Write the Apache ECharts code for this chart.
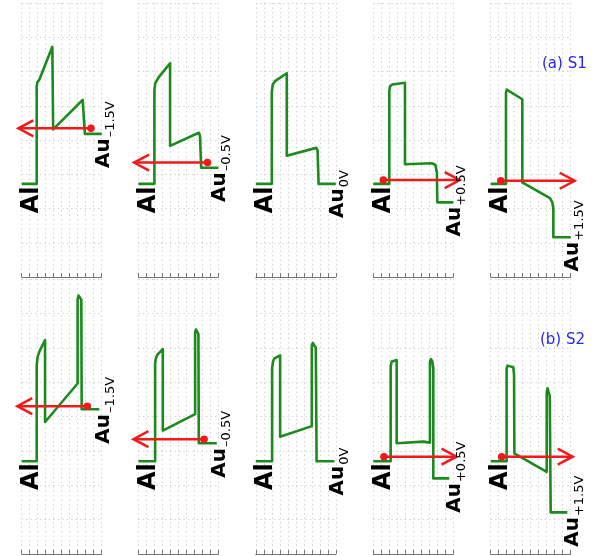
<!DOCTYPE html>
<html>
<head>
<meta charset="utf-8">
<script src="https://cdn.jsdelivr.net/npm/echarts@6/dist/echarts.min.js"></script>
<style>
  html, body { margin: 0; padding: 0; background: #ffffff; }
  #main { width: 602px; height: 556px; }
</style>
</head>
<body>
<div id="main"></div>
<script>
// Bias applied to the Au contact, one panel per bias
const biasLabels = ['\u20131.5V', '\u20130.5V', '0V', '+0.5V', '+1.5V'];

// Band-edge profiles [depth, energy] for sample S1 (Al | barrier | barrier | Au)
const s1Bands = [
  [[0,2.72],[1.875,2.72],[1.875,5.55],[1.95,5.68],[2.2,5.76],[3.83,6.72],[3.93,4.31],[7.62,5.17],[7.9,4.18],[10,4.18]],
  [[0,2.72],[2.0,2.72],[2.0,5.45],[2.1,5.65],[2.5,5.82],[3.96,6.24],[3.96,3.83],[7.55,4.21],[7.7,4.12],[7.85,3.19],[10,3.19]],
  [[0,2.72],[2.0,2.72],[2.0,5.4],[2.12,5.62],[2.41,5.72],[3.87,5.95],[3.87,3.54],[7.55,3.77],[7.72,3.7],[7.85,2.72],[10,2.72]],
  [[0,2.72],[2.0,2.72],[2.0,5.42],[2.1,5.57],[2.37,5.62],[3.96,5.67],[3.96,3.29],[7.3,3.32],[7.75,3.28],[7.95,3.05],[8.0,2.18],[10,2.18]],
  [[0,2.72],[1.91,2.72],[1.91,5.38],[2.0,5.47],[2.2,5.5],[3.95,5.19],[3.95,2.76],[7.41,2.3],[7.7,2.18],[7.83,2.0],[7.83,1.16],[10,1.16]]
];

// Band-edge profiles for sample S2 (with the extra thin barrier near Au)
const s2Bands = [
  [[0,2.70],[1.875,2.70],[1.875,5.49],[2.0,5.75],[2.29,5.93],[2.92,6.22],[2.92,3.84],[6.99,4.96],[6.99,7.4],[7.1,7.52],[7.3,7.53],[7.45,7.4],[7.5,4.21],[9.7,4.21]],
  [[0,2.70],[2.09,2.70],[2.09,5.54],[2.2,5.7],[2.38,5.8],[3.05,5.96],[3.05,3.59],[7.09,4.07],[7.09,6.45],[7.2,6.53],[7.35,6.52],[7.5,6.4],[7.55,3.22],[9.8,3.22]],
  [[0,2.70],[2.04,2.70],[2.04,5.4],[2.15,5.6],[2.33,5.69],[3.04,5.78],[3.04,3.41],[7.0,3.72],[7.0,6.06],[7.12,6.14],[7.3,6.12],[7.5,6.0],[7.6,2.70],[9.83,2.70]],
  [[0,2.70],[2.17,2.70],[2.17,5.45],[2.3,5.6],[2.92,5.64],[2.92,3.22],[6.25,3.27],[7.08,3.24],[7.08,5.6],[7.21,5.67],[7.38,5.6],[7.5,5.4],[7.5,2.2],[9.5,2.2]],
  [[0,2.70],[1.99,2.70],[1.99,5.4],[2.1,5.48],[2.3,5.49],[2.83,5.43],[2.92,5.2],[2.96,2.93],[7.0,2.39],[7.0,4.7],[7.1,4.82],[7.25,4.8],[7.38,4.6],[7.5,1.21],[9.58,1.21]]
];

// Electron transport arrows: [start (dot), end (head), energy]
const s1Arrows = [[8.66,-0.42,4.34],[8.63,-0.54,3.34],null,[1.25,10.8,2.83],[1.25,10.5,2.81]];
const s2Arrows = [[8.2,-0.55,4.3],[8.21,-0.62,3.34],null,[1.33,10.4,2.83],[1.37,10.25,2.83]];

const sampleTitles = ['(a) S1', '(b) S2'];

const FONT = 'DejaVu Sans';
const GREEN = '#1c8a1c';
const RED = '#f01a1a';
const GRID_LINE = { color: '#d2d2d2', type: [1.5, 3], width: 1 };

const colLeft = [21.7, 138.4, 255.8, 373.3, 490.7];
const rowBox = [{ top: 3, height: 274 }, { top: 279, height: 275 }];

const grids = [], xAxes = [], yAxes = [], series = [];
const bandSets = [s1Bands, s2Bands];
const arrowSets = [s1Arrows, s2Arrows];

for (let r = 0; r < 2; r++) {
  for (let c = 0; c < 5; c++) {
    const idx = r * 5 + c;
    grids.push({ left: colLeft[c], top: rowBox[r].top, width: 80, height: rowBox[r].height });
    xAxes.push({
      gridIndex: idx, type: 'value', min: 0, max: 10, interval: 1,
      axisLine: { show: true, onZero: false, lineStyle: { color: '#777', width: 1 } },
      axisTick: { show: true, inside: true, length: 4, lineStyle: { color: '#777' } },
      axisLabel: { show: false },
      splitLine: { show: true, lineStyle: GRID_LINE }
    });
    yAxes.push({
      gridIndex: idx, type: 'value', min: 0, max: 8, interval: 1,
      axisLine: { show: false }, axisTick: { show: false }, axisLabel: { show: false },
      splitLine: { show: true, lineStyle: GRID_LINE }
    });

    const band = bandSets[r][c];
    series.push({
      type: 'line', xAxisIndex: idx, yAxisIndex: idx, data: band,
      symbol: 'none', clip: false, z: 3,
      lineStyle: { color: GREEN, width: 2.6, join: 'round' }
    });

    const arrow = arrowSets[r][c];
    if (arrow) {
      series.push({
        type: 'custom', xAxisIndex: idx, yAxisIndex: idx, z: 5, clip: false,
        data: [arrow],
        encode: { x: [0, 1], y: 2 },
        renderItem: function (params, api) {
          const d = api.coord([api.value(0), api.value(2)]);
          const t = api.coord([api.value(1), api.value(2)]);
          const dir = t[0] > d[0] ? 1 : -1;
          return {
            type: 'group',
            children: [
              { type: 'line', shape: { x1: d[0], y1: d[1], x2: t[0], y2: t[1] },
                style: { stroke: RED, lineWidth: 2.5 } },
              { type: 'polyline',
                shape: { points: [[t[0] - dir * 15, t[1] - 8], [t[0], t[1]], [t[0] - dir * 15, t[1] + 8]] },
                style: { stroke: RED, fill: null, lineWidth: 2.5 } },
              { type: 'circle', shape: { cx: d[0], cy: d[1], r: 3.8 }, style: { fill: RED } }
            ]
          };
        }
      });
    }

    // Contact labels: Al on the left, biased Au on the right
    const auLevel = band[band.length - 1][1];
    series.push({
      type: 'scatter', xAxisIndex: idx, yAxisIndex: idx, symbolSize: 0, silent: true, z: 6,
      clip: false, itemStyle: { opacity: 1 },
      data: [
        { value: [1.25, 2.25], label: {
            show: true, position: 'inside', rotate: 90, formatter: 'Al',
            align: 'center', verticalAlign: 'middle',
            fontFamily: FONT, fontSize: 24, fontWeight: 'bold', color: '#000' } },
        { value: [10.2, auLevel - 1], label: {
            show: true, position: 'inside', rotate: 90,
            align: 'left', verticalAlign: 'middle',
            formatter: '{m|Au}{s|' + biasLabels[c] + '}',
            rich: {
              m: { fontFamily: FONT, fontSize: 20, fontWeight: 'bold', color: '#000' },
              s: { fontFamily: FONT, fontSize: 13, color: '#000', padding: [14, 0, 0, 1] }
            } } }
      ]
    });
  }
}

const chart = echarts.init(document.getElementById('main'));
chart.setOption({
  backgroundColor: '#ffffff',
  animation: false,
  title: [
    { text: sampleTitles[0], left: 537, top: 52,
      textStyle: { color: '#2626ee', fontSize: 15, fontWeight: 'normal', fontFamily: FONT } },
    { text: sampleTitles[1], left: 535, top: 328,
      textStyle: { color: '#2626ee', fontSize: 15, fontWeight: 'normal', fontFamily: FONT } }
  ],
  grid: grids,
  xAxis: xAxes,
  yAxis: yAxes,
  series: series
});
</script>
</body>
</html>
